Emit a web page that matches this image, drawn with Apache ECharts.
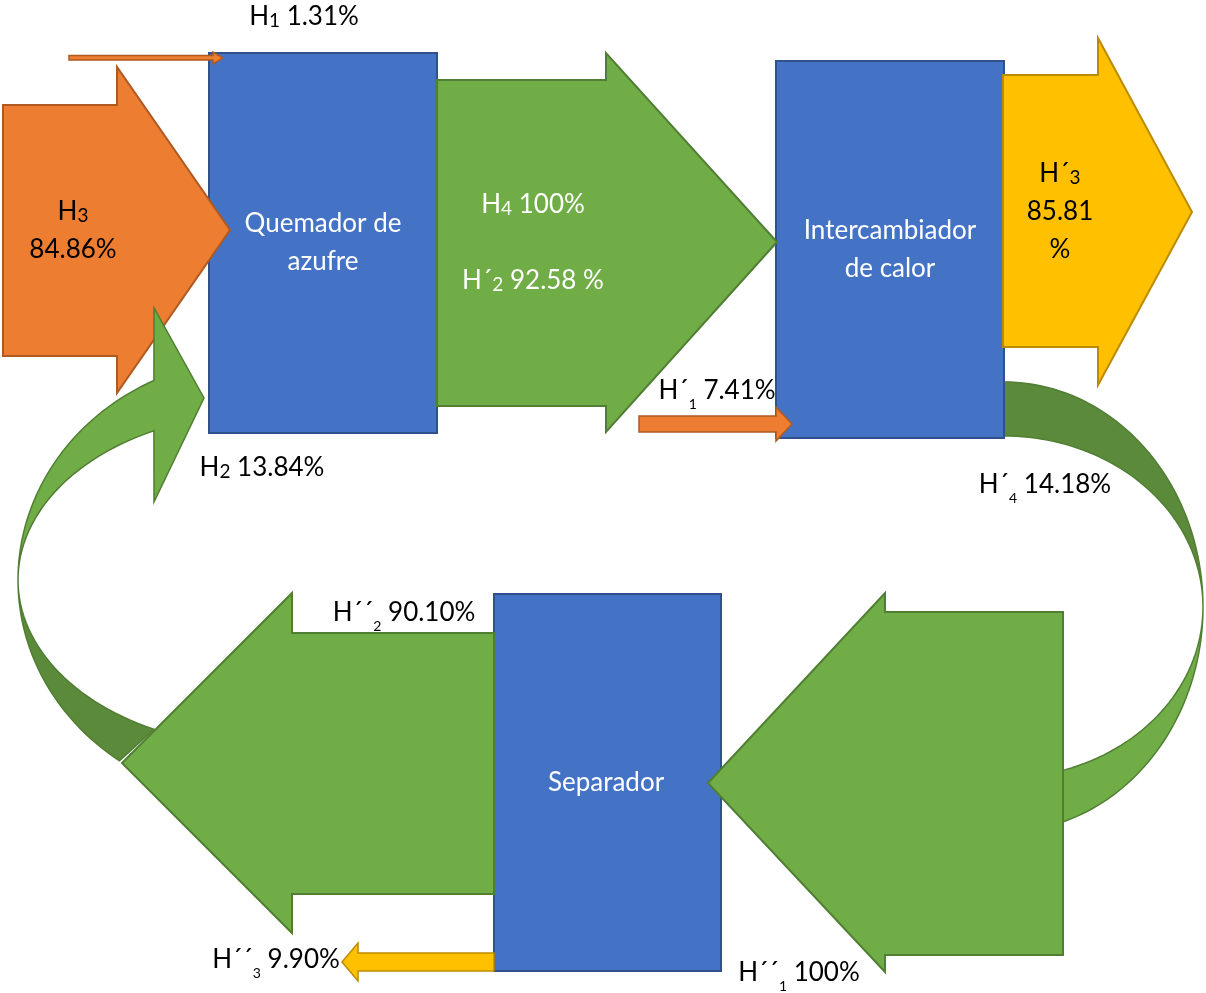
<!DOCTYPE html>
<html>
<head>
<meta charset="utf-8">
<script src="https://cdn.jsdelivr.net/npm/echarts@6/dist/echarts.min.js"></script>
<style>
  html, body { margin: 0; padding: 0; background: #ffffff; }
  #main { width: 1206px; height: 993px; }
</style>
</head>
<body>
<div id="main"></div>
<script>
// Process units of the plant
const unitNames = ['Quemador de\nazufre', 'Intercambiador\nde calor', 'Separador'];

// Streams: symbol, subscript, share in percent
const streamNames  = ['H', 'H', 'H', 'H', 'H´', 'H´', 'H´', 'H´', 'H´´', 'H´´', 'H´´'];
const streamSubs   = ['1', '3', '2', '4', '2', '1', '3', '4', '1', '2', '3'];
const streamValues = [1.31, 84.86, 13.84, 100, 92.58, 7.41, 85.81, 14.18, 100, 90.10, 9.90];

// ---- drawing layout (canvas units, mapped through hidden axes) ----
const W = 1206, H = 993;
const C = {
  blue: '#4472C4', blueLine: '#2F528F',
  orange: '#ED7D31', orangeLine: '#AE5A21',
  green: '#70AD47', greenDark: '#5B8A3B', greenLine: '#507E32',
  yellow: '#FFC000', yellowLine: '#BC8C00'
};
const FONT = 'Lato, "Open Sans", sans-serif';
const FS = 26;

function blockArrow(x0, x1, xt, sTop, sBot, hTop, hBot, ty) {
  return [[x0, sTop], [x1, sTop], [x1, hTop], [xt, ty], [x1, hBot], [x1, sBot], [x0, sBot]];
}
function arc(cx, cy, rx, ry, a0, a1, n) {
  const pts = [];
  for (let k = 0; k <= n; k++) {
    const a = (a0 + (a1 - a0) * k / n) * Math.PI / 180;
    pts.push([cx + rx * Math.cos(a), cy + ry * Math.sin(a)]);
  }
  return pts;
}
function rectPts(x0, y0, x1, y1) {
  return [[x0, y0], [x1, y0], [x1, y1], [x0, y1]];
}

// unit boxes
const unitBoxes = [[209, 53, 437, 433], [776, 61, 1004, 438], [494, 594, 721, 971]];
const unitCenters = [[323, 243], [890, 250], [606, 783]];

// recycle ribbons
const RC = { cx: 1004, cy: 607, rx: 199, ro: 225, ri: 171 };
const LC = { cx: 260, cy: 580, rx: 242, ro: 222, ri: 166 };

const shapes = [];
function poly(points, fill, stroke, lw) { shapes.push({ kind: 'poly', points, fill, stroke, lw }); }

// right ribbon (H´4): lower light half, upper dark half
poly(arc(RC.cx, RC.cy, RC.rx, RC.ro, 0, 80, 40).concat(arc(RC.cx, RC.cy, RC.rx, RC.ri, 80, 0, 40)), C.green, C.greenLine, 1.5);
poly(arc(RC.cx, RC.cy, RC.rx, RC.ro, -90, 0, 50).concat(arc(RC.cx, RC.cy, RC.rx, RC.ri, 0, -90, 50)), C.greenDark, C.greenLine, 1.5);
// left ribbon (H2): lower dark half
poly(arc(LC.cx, LC.cy, LC.rx, LC.ro, 180, 125.5, 30).concat(arc(LC.cx, LC.cy, LC.rx, LC.ri, 116, 180, 30)), C.greenDark, C.greenLine, 1.5);
// unit boxes
unitBoxes.forEach(b => poly(rectPts(b[0], b[1], b[2], b[3]), C.blue, C.blueLine, 2));
// H3 feed
poly(blockArrow(3, 117, 230, 105, 356, 67, 393, 230), C.orange, C.orangeLine, 2);
// left ribbon (H2): upper light half with head
poly(arc(LC.cx, LC.cy, LC.rx, LC.ro, 180, 244, 40)
  .concat([[154, 308], [204, 398], [154, 502]])
  .concat(arc(LC.cx, LC.cy, LC.rx, LC.ri, 244, 180, 40)), C.green, C.greenLine, 1.5);
// H1 feed
poly(blockArrow(69, 213, 223, 55.5, 60, 52, 64, 58), C.orange, C.orangeLine, 1.5);
// H4 / H´2 to exchanger
poly(blockArrow(437, 606, 777, 80, 406, 53, 432, 242), C.green, C.greenLine, 2);
// H´1 feed
poly(blockArrow(639, 776, 792, 416, 432, 407, 441, 424), C.orange, C.orangeLine, 1.5);
// H´3 out
poly(blockArrow(1003, 1098, 1192, 75, 347, 38, 385, 212), C.yellow, C.yellowLine, 2);
// H´´1 to separator
poly(blockArrow(1063, 885, 708, 612, 955, 593, 972, 783), C.green, C.greenLine, 2);
// H´´2 from separator
poly(blockArrow(494, 292, 122, 633, 894, 593, 933, 763), C.green, C.greenLine, 2);
// H´´3 out
poly(blockArrow(494, 358, 342, 953, 971, 943, 981, 962), C.yellow, C.yellowLine, 1.5);

// stream labels: index, centre, colour, subscript drop, separators
const labelLayout = [
  { i: 0, x: 304, y: 17, color: '#000', sub: 'u', br: ' ', pct: '' },
  { i: 1, x: 73, y: 231, color: '#000', sub: 'u', br: '\n', pct: '' },
  { i: 2, x: 262, y: 468, color: '#000', sub: 'u', br: ' ', pct: '' },
  { i: 3, x: 533, y: 205, color: '#fff', sub: 'u', br: ' ', pct: '' },
  { i: 4, x: 533, y: 281, color: '#fff', sub: 'u', br: ' ', pct: ' ' },
  { i: 5, x: 717, y: 391, color: '#000', sub: 'l', br: ' ', pct: '' },
  { i: 6, x: 1060, y: 212, color: '#000', sub: 'u', br: '\n', pct: '\n' },
  { i: 7, x: 1045, y: 485, color: '#000', sub: 'l', br: ' ', pct: '' },
  { i: 8, x: 799, y: 973, color: '#000', sub: 'l', br: ' ', pct: '' },
  { i: 9, x: 404, y: 613, color: '#000', sub: 'l', br: ' ', pct: '' },
  { i: 10, x: 276, y: 960, color: '#000', sub: 'l', br: ' ', pct: '' }
];

function fmtValue(v) { return v === 100 ? '100' : v.toFixed(2); }
function richFor(color, lh) {
  return {
    m: { fontSize: FS, fontFamily: FONT, fill: color, lineHeight: lh },
    u: { fontSize: 19, fontFamily: FONT, fill: color, lineHeight: lh, padding: [8, 0, 0, 0] },
    l: { fontSize: 14, fontFamily: FONT, fill: color, lineHeight: lh, padding: [27, 0, 0, 0] }
  };
}
function splitTokens(str) {
  return str.split('\n').map(s => (s.length ? '{m|' + s + '}' : '')).join('\n');
}
labelLayout.forEach(L => {
  const i = L.i;
  const head = '{m|' + streamNames[i] + '}{' + L.sub + '|' + streamSubs[i] + '}';
  const tail = splitTokens(fmtValue(streamValues[i]) + L.pct + '%');
  const text = L.br === '\n' ? head + '\n' + tail : head + '{m| }' + tail;
  shapes.push({ kind: 'text', x: L.x, y: L.y, text, rich: richFor(L.color, 38) });
});
unitNames.forEach((n, k) => {
  shapes.push({ kind: 'text', x: unitCenters[k][0], y: unitCenters[k][1],
    text: splitTokens(n), rich: richFor('#fff', 38) });
});

const chart = echarts.init(document.getElementById('main'), null, { renderer: 'canvas' });
chart.setOption({
  backgroundColor: '#ffffff',
  animation: false,
  grid: { left: 0, right: 0, top: 0, bottom: 0 },
  xAxis: { type: 'value', min: 0, max: W, show: false },
  yAxis: { type: 'value', min: 0, max: H, inverse: true, show: false },
  series: [{
    type: 'custom',
    coordinateSystem: 'cartesian2d',
    clip: false,
    silent: true,
    data: shapes.map((s, k) => [k, 0]),
    renderItem: function (params, api) {
      const s = shapes[params.dataIndex];
      if (s.kind === 'poly') {
        return {
          type: 'polygon',
          shape: { points: s.points.map(p => api.coord(p)) },
          style: { fill: s.fill, stroke: s.stroke, lineWidth: s.lw, lineJoin: 'miter' }
        };
      }
      const p = api.coord([s.x, s.y]);
      return {
        type: 'text',
        style: {
          x: p[0], y: p[1], text: s.text, rich: s.rich,
          align: 'center', verticalAlign: 'middle',
          fontSize: FS, fontFamily: FONT, fill: s.rich.m.fill
        }
      };
    }
  }]
});
</script>
</body>
</html>
